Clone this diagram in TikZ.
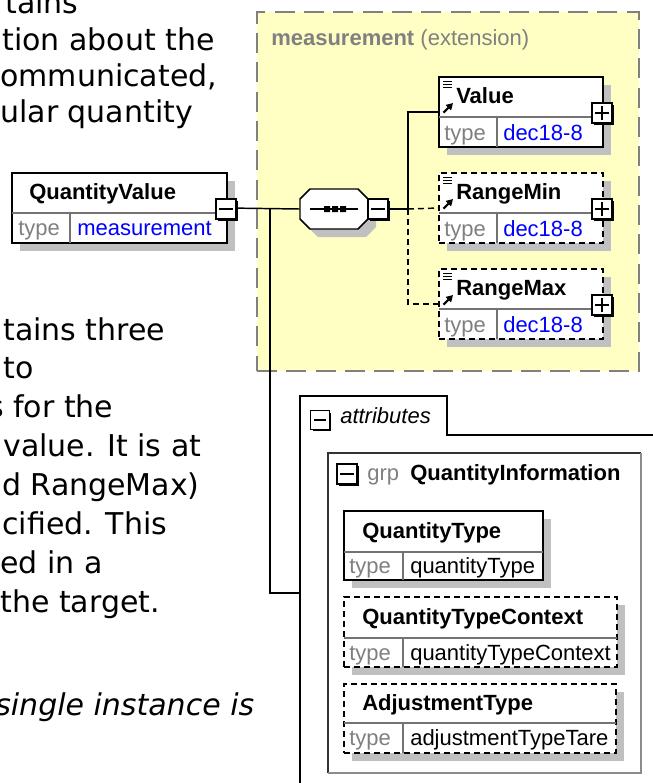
\documentclass[tikz,border=0pt]{standalone}
\usepackage{fontspec}
\newfontfamily\verd{DejaVu Sans}
\newfontfamily\arl{Liberation Sans}
\usetikzlibrary{shadows,calc,arrows.meta}
\definecolor{xsyellow}{RGB}{255,255,196}
\definecolor{xsgray}{RGB}{128,128,128}
\definecolor{xsshadow}{RGB}{192,192,192}
\definecolor{xsblue}{RGB}{0,0,255}
\newcommand\xsminus[1]{\draw[sign] ($(#1.west)+(4,0)$) -- ($(#1.east)+(-4,0)$);}
\newcommand\xsplus[1]{\draw[sign] ($(#1.west)+(4,0)$) -- ($(#1.east)+(-4,0)$) ($(#1.north)+(0,4)$) -- ($(#1.south)+(0,-4)$);}
\newcommand\xsicon[1]{%
  \begin{scope}[shift={(0,#1)}]
    \draw[line width=0.7pt] (443,4)--(452,4) (443,7)--(452,7) (443,10)--(452,10);
    \draw[line width=1.6pt,-{Triangle[length=5pt,width=5.5pt]}] (443.5,35.5) -- (453,26);
  \end{scope}}
\begin{document}
\begin{tikzpicture}[x=0.75pt,y=-0.75pt,
  body/.style={font=\verd\fontsize{22.5pt}{27pt}\selectfont, anchor=base west, inner sep=0, text=black},
  bodyit/.style={body, font=\verd\itshape\fontsize{22.5pt}{27pt}\selectfont},
  lbl/.style={font=\arl\bfseries\fontsize{16.5pt}{19pt}\selectfont, anchor=base west, inner sep=0, text=black},
  typ/.style={font=\arl\fontsize{16.5pt}{19pt}\selectfont, text=xsgray, anchor=base west, inner sep=0},
  tval/.style={font=\arl\fontsize{16.5pt}{19pt}\selectfont, text=black, anchor=base west, inner sep=0},
  bval/.style={tval, text=xsblue},
  conn/.style={draw=black, line width=1.1pt},
  dconn/.style={conn, dash pattern=on 4.5pt off 3pt},
  elbox/.style={draw=black, fill=white, line width=1.1pt, inner sep=0, general shadow={fill=xsshadow, shadow xshift=6pt, shadow yshift=-6pt}},
  optbox/.style={elbox, dash pattern=on 4.5pt off 3pt},
  divl/.style={draw=black!55, line width=0.8pt},
  pm/.style={draw=black, fill=white, line width=0.9pt, inner sep=0, minimum size=15pt, general shadow={fill=black, shadow xshift=1.6pt, shadow yshift=-1.6pt}},
  sign/.style={draw=black, line width=1.1pt},
]
\useasboundingbox (0,0) rectangle (653,783);

% left text
\node[body] (t1) at (5,13) {tains};
\node[body] (t2) at (2,50) {tion about the};
\node[body] (t3) at (0,86) {ommunicated,};
\node[body] (t4) at (0,122) {ular quantity};
\node[body] (t5) at (3,340) {tains three};
\node[body] (t6) at (3,378) {to};
\node[body] (t7) at (-12,417) {s for the};
\node[body] (t8) at (3,456) {value. It is at};
\node[body] (t9) at (2,495) {d RangeMax)};
\node[body] (t10) at (2,534) {cified. This};
\node[body] (t11) at (0,573) {ed in a};
\node[body] (t12) at (0,612) {the target.};
\node[bodyit] (t13) at (-5,715) {single instance is};

% extension area
\node[draw=xsgray, fill=xsyellow, line width=1.5pt, dash pattern=on 15pt off 7pt, inner sep=0, minimum width=286.5pt, minimum height=269.25pt] (ext) at (448,191.5) {};
\node[tval, text=xsgray] (exth) at (271,45) {\textbf{measurement} (extension)};

% coordinates
\coordinate (qvfork) at (270,209);
\coordinate (attrin) at (300,593);
\coordinate (fork) at (408,209);

% QuantityValue
\node[elbox, minimum width=161.25pt, minimum height=52.5pt] (qv) at (119.5,208) {};
\draw[divl] (12,213) -- (227,213) (70,213) -- (70,243);
\node[lbl] (qvl) at (29,199) {QuantityValue};
\node[typ] (qvt) at (18,235) {type};
\node[bval] (qvv) at (77,235) {measurement};

% sequence compositor
\node[inner sep=0, minimum width=51pt, minimum height=30pt] (seq) at (334,209) {};
\fill[xsshadow] (318,197) -- (366,197) -- (376,207) -- (376,227) -- (366,237) -- (318,237) -- (308,227) -- (308,207) -- cycle;
\draw[line width=1.1pt, fill=white] (310,189) -- (358,189) -- (368,199) -- (368,219) -- (358,229) -- (310,229) -- (300,219) -- (300,199) -- cycle;
\draw[line width=1pt] (310,209) -- (358,209);
\fill (324,206) rectangle (330,212) (332,206) rectangle (338,212) (340,206) rectangle (346,212);

% connectors
\draw[conn] (qv.east) -- (seq.west);
\draw[conn] (qvfork) |- (attrin);
\draw[conn] (seq.east) -- (fork);

% elements
\node[elbox, minimum width=123pt, minimum height=52.5pt] (val) at (521,112) {};
\node[optbox, minimum width=123pt, minimum height=52.5pt] (rmin) at (521,208) {};
\node[optbox, minimum width=123pt, minimum height=52.5pt] (rmax) at (521,304) {};
\draw[conn] (fork) |- (val.west);
\draw[dconn] (fork) -- (rmin.west);
\draw[dconn] (fork) |- (rmax.west);
\draw[divl] (439,117) -- (603,117) (497,117) -- (497,147);
\draw[divl] (439,213) -- (603,213) (497,213) -- (497,243);
\draw[divl] (439,309) -- (603,309) (497,309) -- (497,339);
\xsicon{77}
\xsicon{173}
\xsicon{269}
\node[lbl] (vall) at (456,103) {Value};
\node[typ] (valt) at (444,140) {type};
\node[bval] (valv) at (503,140) {dec18-8};
\node[lbl] (rminl) at (456,199) {RangeMin};
\node[typ] (rmint) at (444,236) {type};
\node[bval] (rminv) at (503,236) {dec18-8};
\node[lbl] (rmaxl) at (456,295) {RangeMax};
\node[typ] (rmaxt) at (444,332) {type};
\node[bval] (rmaxv) at (503,332) {dec18-8};

% plus / minus boxes
\node[pm] (qvm) at (226,209) {}; \xsminus{qvm}
\node[pm] (seqm) at (378,209) {}; \xsminus{seqm}
\node[pm] (valp) at (602,113) {}; \xsplus{valp}
\node[pm] (rminp) at (602,209) {}; \xsplus{rminp}
\node[pm] (rmaxp) at (602,305) {}; \xsplus{rmaxp}

% attributes
\draw[conn] (300,800) -- (300,396) -- (447,396) -- (447,435) -- (670,435);
\node[pm, minimum size=14pt] (attrm) at (320,420) {}; \xsminus{attrm}
\node[font=\arl\itshape\fontsize{16.5pt}{19pt}\selectfont, anchor=base west, inner sep=0] (attrl) at (340,423) {attributes};

% group
\draw[draw=black!80, line width=1pt] (328,773) -- (328,453) -- (641,453);
\draw[draw=black!45, line width=1pt] (641,453) -- (641,773) -- (328,773);
\node[pm] (grpm) at (347,474) {}; \xsminus{grpm}
\node[typ] (grpt) at (367,480) {grp};
\node[lbl] (grpl) at (410,480) {QuantityInformation};

\node[elbox, minimum width=149.25pt, minimum height=51.75pt] (qt) at (443.5,545.5) {};
\draw[divl] (344,552) -- (543,552) (403,552) -- (403,580);
\node[lbl] (qtl) at (362,538) {QuantityType};
\node[typ] (qtt) at (349,573) {type};
\node[tval] (qtv) at (410,573) {quantityType};

\node[optbox, minimum width=204.75pt, minimum height=52.5pt] (qtc) at (480.5,632) {};
\draw[divl] (344,638) -- (617,638) (403,638) -- (403,667);
\node[lbl] (qtcl) at (362,624) {QuantityTypeContext};
\node[typ] (qtct) at (349,660) {type};
\node[tval] (qtcv) at (410,660) {quantityTypeContext};

\node[optbox, minimum width=204pt, minimum height=51.75pt] (adj) at (480,718.5) {};
\draw[divl] (344,723) -- (616,723) (403,723) -- (403,753);
\node[lbl] (adjl) at (362,710) {AdjustmentType};
\node[typ] (adjt) at (349,745) {type};
\node[tval] (adjv) at (410,745) {adjustmentTypeTare};
\end{tikzpicture}
\end{document}
